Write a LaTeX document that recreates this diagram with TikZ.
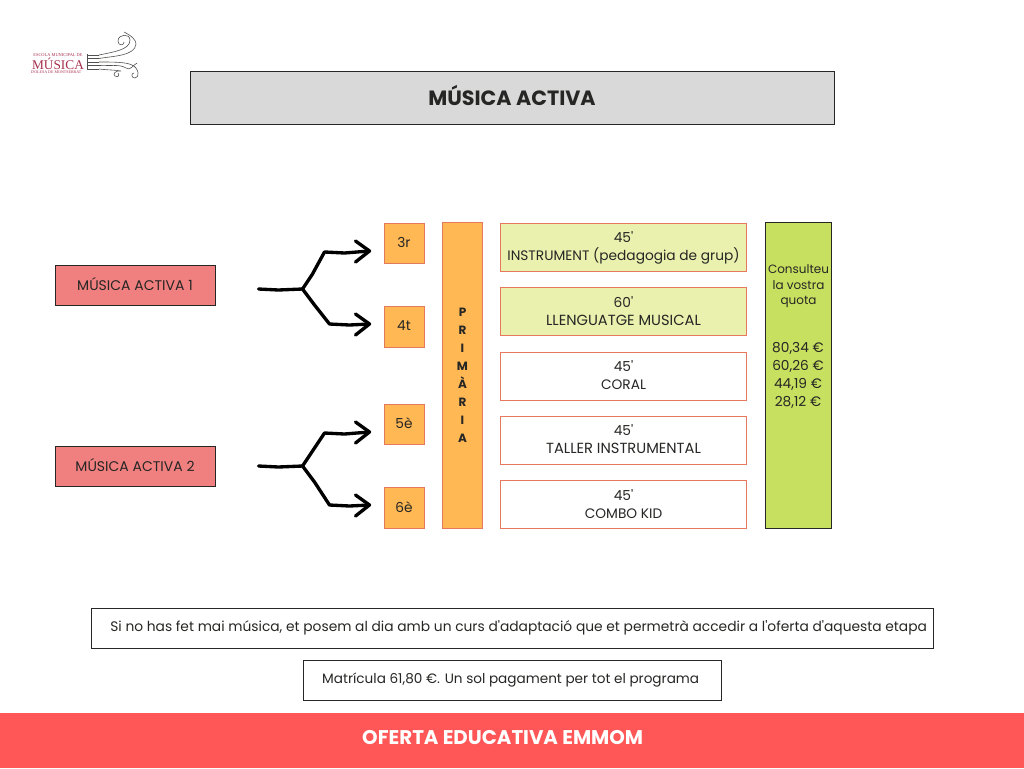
\documentclass[tikz,border=0pt]{standalone}
\usepackage{fontspec}
\setmainfont{Poppins}[Ligatures=TeXOff]
\newfontfamily\logofont{Liberation Serif}
\usetikzlibrary{calc}
\definecolor{titol}{HTML}{D9D9D9}
\definecolor{salmo}{HTML}{F08080}
\definecolor{taronja}{HTML}{FFB854}
\definecolor{vora}{HTML}{E6785C}
\definecolor{llima}{HTML}{EAF0AE}
\definecolor{verd}{HTML}{C7E060}
\definecolor{peu}{HTML}{FF5757}
\definecolor{tinta}{HTML}{262624}
\definecolor{grana}{HTML}{A62F4C}
\tikzset{
 caixa/.style={draw=#1,line width=0.75pt,inner sep=0pt,align=center,text=tinta,font=\fontsize{10.3}{13.5}\selectfont},
 caixa/.default=tinta,
 fletxa/.style={line width=2.5pt,line cap=round,line join=round,black},
 clau/.style={line width=0.45pt,tinta!80}
}

\begin{document}
\begin{tikzpicture}[x=0.75pt,y=-0.75pt]
\useasboundingbox (0,0) rectangle (1024,768);

% capcalera
\node[caixa,fill=titol,minimum width=483pt,minimum height=39.5pt,font=\fontsize{15.5}{17}\bfseries] (titolbox) at (512,97.8) {\raisebox{3pt}{MÚSICA ACTIVA}};

% logo
\node[text=grana,inner sep=0pt,font=\logofont\fontsize{3.3}{4}\selectfont] (logoa) at (58,55) {ESCOLA MUNICIPAL DE};
\node[text=grana,inner sep=0pt,font=\logofont\fontsize{10}{10}\selectfont] (logob) at (58,63.5) {MÚSICA};
\node[text=grana,inner sep=0pt,font=\logofont\fontsize{3}{4}\selectfont] (logoc) at (56,72.5) {D'OLESA DE MONTSERRAT};
\foreach \y in {55,58.5,62,65.5,69} \draw[clau] (87,\y) -- (99,\y);
\draw[clau] (87,54) -- (87,70);
\draw[clau] (99,55) .. controls (113,52) and (130,50) .. (130,40) .. controls (130,33) and (118,34) .. (118,41) .. controls (118,46) and (124,46) .. (124,42);
\draw[clau] (99,58.5) .. controls (113,56) and (135,56) .. (136,44) .. controls (136,40) and (132,36) .. (124,32);
\draw[clau] (99,62) .. controls (113,62) and (126,62) .. (132,65) .. controls (139,68) and (140,78) .. (135,78) .. controls (131,78) and (131,73) .. (134,73);
\draw[clau] (99,65.5) .. controls (109,66) and (120,64) .. (126,68) .. controls (130,71) and (132,66) .. (137,63);
\draw[clau] (99,69) .. controls (107,70) and (116,70) .. (121,71) .. controls (116,70) and (112,74) .. (115,76) .. controls (118,78) and (120,75) .. (118,73);

% nivells
\node[caixa,fill=salmo,minimum width=120pt,minimum height=30pt,font=\fontsize{10.5}{13}\selectfont] (ma1) at (135,285) {\raisebox{2pt}{MÚSICA ACTIVA 1}};
\node[caixa,fill=salmo,minimum width=120pt,minimum height=30.5pt,font=\fontsize{10.5}{13}\selectfont] (ma2) at (135,466.5) {\raisebox{2pt}{MÚSICA ACTIVA 2}};

% cursos
\foreach \nom/\y/\txt in {c3/243.5/3r,c4/327/4t,c5/424.5/5è,c6/508/6è}
 \node[caixa=vora,fill=taronja,minimum width=30pt,minimum height=30.5pt] (\nom) at (404,\y) {\raisebox{2pt}{\txt}};

\node[caixa=vora,fill=taronja,minimum width=29.5pt,minimum height=229pt,font=\fontsize{9}{13.5}\bfseries] (prim) at (462.5,375.5) {P\\R\\I\\M\\À\\R\\I\\A};

% assignatures
\node[caixa=vora,fill=llima,minimum width=185pt,minimum height=36.5pt] (as1) at (623.5,247.5) {45'\\INSTRUMENT (pedagogia de grup)};
\node[caixa=vora,fill=llima,minimum width=185pt,minimum height=35.5pt] (as2) at (623.5,311.5) {\raisebox{1.2pt}{60'}\\\raisebox{1.2pt}{\fontsize{11}{13.5}\selectfont LLENGUATGE MUSICAL}};
\node[caixa=vora,fill=white,minimum width=185pt,minimum height=36pt] (as3) at (623.5,376) {\raisebox{1.2pt}{45'}\\\raisebox{1.2pt}{CORAL}};
\node[caixa=vora,fill=white,minimum width=185pt,minimum height=36pt] (as4) at (623.5,440) {\raisebox{1.2pt}{45'}\\\raisebox{1.2pt}{\fontsize{11}{13.5}\selectfont TALLER INSTRUMENTAL}};
\node[caixa=vora,fill=white,minimum width=185pt,minimum height=35.5pt] (as5) at (623.5,504.5) {\raisebox{1.2pt}{45'}\\\raisebox{1.2pt}{COMBO KID}};

% quota
\node[caixa,fill=verd,minimum width=50pt,minimum height=229pt] (quota) at (798.5,375.5) {};
\node[text=tinta,align=center,inner sep=0pt,font=\fontsize{9}{11.6}\selectfont] (quotatxt) at (798.5,286.5) {Consulteu\\la vostra\\quota};
\node[text=tinta,align=center,inner sep=0pt,font=\fontsize{10.3}{13.6}\selectfont] (preus) at (798,375.5) {80,34 €\\60,26 €\\44,19 €\\28,12 €};

% fletxes
\foreach \a/\b/\c/\d in {ma1/c3/c4/4,ma2/c5/c6/-0.5} {
 \coordinate (ini) at ($(\a.east)+(43,\d)$);
 \coordinate (nus) at ($(\a.east)+(87,\d)$);
 \coordinate (dalt) at ($(\b.west)+(-59,8.5)$);
 \coordinate (baix) at ($(\c.west)+(-54,-3)$);
 \coordinate (fdalt) at ($(\b.west)+(-14,7.5)$);
 \coordinate (fbaix) at ($(\c.west)+(-14,-3)$);
 \draw[fletxa] (ini) -- ++(20,1) -- (nus) -- ++(10,-15) -- (dalt) -- ++(20,1) -- (fdalt);
 \draw[fletxa] ($(fdalt)+(-14,-10)$) -- (fdalt) -- ($(fdalt)+(-14,11)$);
 \draw[fletxa] (nus) -- ++(12,16) -- (baix) -- ++(20,1) -- (fbaix);
 \draw[fletxa] ($(fbaix)+(-14,-10)$) -- (fbaix) -- ($(fbaix)+(-14,11)$);
}

% notes
\node[caixa,minimum width=631.5pt,minimum height=30pt,font=\fontsize{10.35}{12}\selectfont] (nota1) at (512,628) {\hspace*{10pt}\raisebox{-0.8pt}{Si no has fet mai música, et posem al dia amb un curs d'adaptació que et permetrà accedir a l'oferta d'aquesta etapa}};
\node[caixa,minimum width=313.5pt,minimum height=30.5pt,font=\fontsize{10.2}{12}\selectfont] (nota2) at (512,680.5) {\hspace*{-2pt}Matrícula 61,80 €. Un sol pagament per tot el programa};

% peu
\node[fill=peu,text=white,minimum width=768pt,minimum height=41.25pt,inner sep=0pt,font=\fontsize{14.85}{16}\bfseries] (peubox) at (512,740.5) {\hspace*{-14pt}\raisebox{4.2pt}{OFERTA EDUCATIVA EMMOM}};
\end{tikzpicture}
\end{document}
